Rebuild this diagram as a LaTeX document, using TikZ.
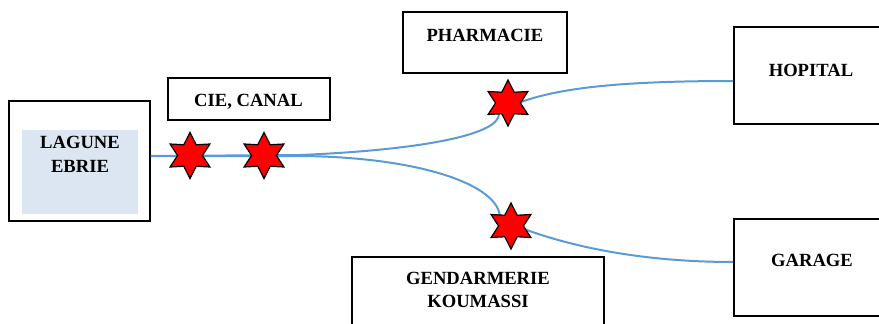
\documentclass[tikz,border=0pt]{standalone}
\usepackage{fontspec}
\setmainfont{Liberation Serif}
\usetikzlibrary{shapes.geometric,calc}
\definecolor{linkblue}{HTML}{5B9BD5}
\definecolor{lagfill}{HTML}{DCE6F2}
\begin{document}
\begin{tikzpicture}[x=1pt,y=-1pt,
  box/.style={draw=black,line width=1.6pt,inner sep=0pt},
  lbl/.style={font=\fontsize{18.6}{24.3}\selectfont\bfseries,align=center,inner sep=0pt,anchor=base},
  lbltwo/.style={font=\fontsize{18.6}{23.3}\selectfont\bfseries,align=center,inner sep=0pt,anchor=base},
  link/.style={draw=linkblue,line width=2pt},
  hexstar/.style={star,star points=6,star point ratio=1.85,minimum size=46pt,inner sep=0pt,fill=red,draw=black,line width=1.2pt}]
\useasboundingbox (0,0) rectangle (879,324);
\clip (0,0) rectangle (879,324);
% boxes
\node[box,minimum width=141pt,minimum height=120pt] (lagune) at (79.5,161) {};
\node[fill=lagfill,minimum width=116pt,minimum height=84pt,inner sep=0pt] (lagunefill) at (80,172) {};
\node[box,minimum width=162pt,minimum height=42pt] (cie) at (249,99) {};
\node[box,minimum width=164pt,minimum height=61pt] (pharmacie) at (485,42.5) {};
\node[box,minimum width=200pt,minimum height=97pt] (hopital) at (834,75.5) {};
\node[box,minimum width=200pt,minimum height=97pt] (garage) at (834,267.5) {};
\node[box,minimum width=252pt,minimum height=93pt] (gendarmerie) at (478,303.5) {};
% labels (anchor = baseline of the last line)
\node[lbl] (tlagune) at (80,172.7) {LAGUNE\\EBRIE};
\node[lbl] (tcie) at (248.5,106) {CIE, CANAL};
\node[lbl] (tpharmacie) at (485,41.7) {PHARMACIE};
\node[lbl] (thopital) at (811,76) {HOPITAL};
\node[lbl] (tgarage) at (812,266.7) {GARAGE};
\node[lbltwo] (tgendarmerie) at (478,307.3) {GENDARMERIE\\KOUMASSI};
% star positions
\coordinate (s1) at (190,155.5);
\coordinate (s2) at (264,155.5);
\coordinate (s3) at (508,103);
\coordinate (s4) at (511,226);
% connectors
\draw[link] ([yshift=5pt]lagune.east) -- (300,155) .. controls (420,150) and (499,135) .. ($(s3)+(-9,11)$);
\draw[link] ([yshift=5pt]lagune.east) -- (300,156) .. controls (420,157) and (500,185) .. ($(s4)+(-11,-8)$);
\draw[link] ($(s3)+(13,-1)$) .. controls (560,88) and (620,81) .. ([yshift=-5.5pt]hopital.west);
\draw[link] ($(s4)+(13,3)$) .. controls (570,246) and (640,262) .. ([yshift=5.5pt]garage.west);
% stars
\node[hexstar] (star1) at (s1) {};
\node[hexstar] (star2) at (s2) {};
\node[hexstar] (star3) at (s3) {};
\node[hexstar] (star4) at (s4) {};
\end{tikzpicture}
\end{document}
